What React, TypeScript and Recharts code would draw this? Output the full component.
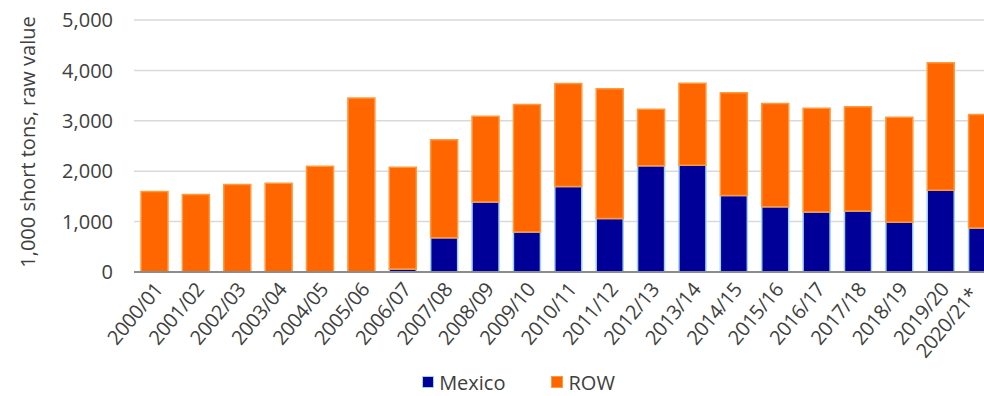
import React from 'react';
import { BarChart, Bar, XAxis, YAxis, CartesianGrid, Legend, Label } from 'recharts';

const seasons = [
  '2000/01', '2001/02', '2002/03', '2003/04', '2004/05', '2005/06', '2006/07',
  '2007/08', '2008/09', '2009/10', '2010/11', '2011/12', '2012/13', '2013/14',
  '2014/15', '2015/16', '2016/17', '2017/18', '2018/19', '2019/20', '2020/21*',
];
const mexico = [0, 0, 0, 0, 0, 0, 60, 680, 1390, 795, 1695, 1060, 2110, 2120, 1520, 1295, 1190, 1210, 985, 1620, 875];
const row = [1595, 1540, 1735, 1760, 2100, 3450, 2020, 1945, 1700, 2530, 2045, 2575, 1120, 1625, 2035, 2050, 2060, 2070, 2085, 2530, 2250];
const yTicks = [0, 1000, 2000, 3000, 4000, 5000];

const FONT = '"Open Sans", "Segoe UI", sans-serif';
const TEXT = '#404040';
const MEX_FILL = '#000099';
const MEX_STROKE = '#9fd4ee';
const ROW_FILL = '#ff6600';
const ROW_STROKE = '#ff9a3c';

const chartData = seasons.map((name, i) => ({ name, mexico: mexico[i], row: row[i] }));

const XTick = (props: any) => {
  const { x, y, payload, index } = props;
  // the last label is pulled in a little so it stays inside the frame
  const shift = index === seasons.length - 1 ? -12 : 0;
  return (
    <g transform={`translate(${x + 3 + shift},${y + 5 + (shift ? 5 : 0)})`}>
      <text x={0} y={0} dy={8} textAnchor="end" transform="rotate(-50)" fill={TEXT} fontSize={20} fontFamily={FONT} letterSpacing={-0.4}>
        {payload.value}
      </text>
    </g>
  );
};

const renderLegend = () => (
  <div style={{ display: 'flex', justifyContent: 'center', alignItems: 'center', fontFamily: FONT, fontSize: 20, color: TEXT, height: 28, paddingLeft: 34 }}>
    <span style={{ display: 'inline-flex', alignItems: 'center', marginRight: 46 }}>
      <span style={{ width: 10, height: 10, background: MEX_FILL, border: `1.5px solid ${MEX_STROKE}`, marginRight: 5 }} />
      Mexico
    </span>
    <span style={{ display: 'inline-flex', alignItems: 'center' }}>
      <span style={{ width: 10, height: 10, background: ROW_FILL, border: `1.5px solid ${ROW_STROKE}`, marginRight: 5 }} />
      ROW
    </span>
  </div>
);

const App: React.FC = () => {
  return (
    <div style={{ position: 'fixed', left: 0, top: 0, width: 984, height: 396, overflow: 'hidden', background: '#fff' }}>
      <BarChart
        width={1010}
        height={396}
        data={chartData}
        margin={{ top: 20, right: 7, left: 0, bottom: 0 }}
        barSize={27}
      >
        <CartesianGrid vertical={false} stroke="#d9d9d9" strokeWidth={1.5} />
        <XAxis
          dataKey="name"
          interval={0}
          height={96}
          tickLine={false}
          axisLine={{ stroke: '#8c8c8c', strokeWidth: 2 }}
          tick={<XTick />}
        />
        <YAxis
          width={134}
          domain={[0, 5000]}
          ticks={yTicks}
          axisLine={false}
          tickLine={false}
          tickMargin={15}
          tickFormatter={(v: number) => v.toLocaleString('en-US')}
          tick={{ fill: TEXT, fontSize: 20, fontFamily: FONT }}
        >
          <Label
            content={() => (
              <text x={27} y={142} transform="rotate(-90 27 142)" textAnchor="middle" dominantBaseline="central" fill={TEXT} fontSize={20} fontFamily={FONT}>
                1,000 short tons, raw value
              </text>
            )}
          />
        </YAxis>
        <Legend verticalAlign="bottom" height={28} content={renderLegend} />
        <Bar dataKey="mexico" name="Mexico" stackId="a" fill={MEX_FILL} stroke={MEX_STROKE} strokeWidth={1.5} isAnimationActive={false} />
        <Bar dataKey="row" name="ROW" stackId="a" fill={ROW_FILL} stroke={ROW_STROKE} strokeWidth={1.5} isAnimationActive={false} />
      </BarChart>
    </div>
  );
};

export default App;
